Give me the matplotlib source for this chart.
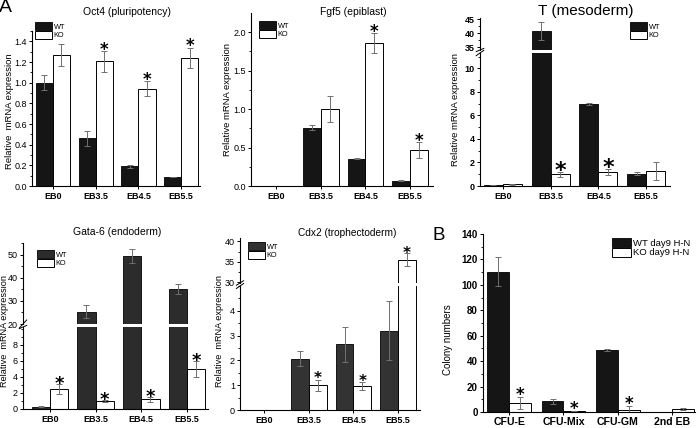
import matplotlib
matplotlib.use('Agg')
import matplotlib.pyplot as plt
import numpy as np
from matplotlib.patches import Patch
from matplotlib.ticker import MultipleLocator, FormatStrFormatter

plt.rcParams['font.family'] = ['Liberation Sans', 'DejaVu Sans']

# ---------------- data ----------------
stages = ['EB0', 'EB3.5', 'EB4.5', 'EB5.5']

oct4_wt = [1.0, 0.46, 0.19, 0.087]
oct4_wt_err = [0.075, 0.07, 0.016, 0.004]
oct4_ko = [1.27, 1.205, 0.942, 1.242]
oct4_ko_err = [0.105, 0.098, 0.07, 0.097]
oct4_star = [False, True, True, True]

fgf5_wt = [0.0, 0.757, 0.357, 0.07]
fgf5_wt_err = [0.0, 0.033, 0.01, 0.008]
fgf5_ko = [0.0, 1.0, 1.857, 0.465]
fgf5_ko_err = [0.0, 0.174, 0.13, 0.1]
fgf5_star = [False, False, True, True]

t_wt = [0.1, 40.6, 6.97, 1.05]
t_wt_err = [0.02, 3.2, 0.05, 0.1]
t_ko = [0.15, 1.0, 1.2, 1.28]
t_ko_err = [0.05, 0.22, 0.28, 0.78]
t_star = [False, True, True, False]

gata6_wt = [0.3, 25.3, 49.6, 35.2]
gata6_wt_err = [0.05, 2.9, 3.0, 2.2]
gata6_ko = [2.5, 1.0, 1.2, 5.0]
gata6_ko_err = [0.6, 0.1, 0.3, 0.95]
gata6_star = [True, True, True, True]

cdx2_wt = [0.02, 2.06, 2.65, 3.2]
cdx2_wt_err = [0.0, 0.3, 0.7, 1.2]
cdx2_ko = [0.0, 1.0, 0.97, 35.5]
cdx2_ko_err = [0.0, 0.22, 0.15, 1.6]
cdx2_star = [False, True, True, True]

colony_types = ['CFU-E', 'CFU-Mix', 'CFU-GM', '2nd EB']
colony_wt = [110.5, 8.4, 48.4, 0.0]
colony_wt_err = [11.5, 1.9, 0.8, 0.0]
colony_ko = [7.1, 0.8, 1.8, 2.1]
colony_ko_err = [4.7, 0.3, 2.7, 0.8]
colony_star = [True, True, True, False]

# ---------------- layout helpers ----------------
W, H = 700, 428
fig = plt.figure(figsize=(7.0, 4.28), dpi=100)


def rect(x0, y0, x1, y1):
    return [x0 / W, 1 - y1 / H, (x1 - x0) / W, (y1 - y0) / H]


def fx(x):
    return x / W


def fy(y):
    return 1 - y / H


BAR_W = 0.4
ERR_COLOR = '#707070'


def style_axis(ax, bold_y=False, ysize=6.5, xsize=6.5, xpad=1.5):
    for s in ['top', 'right']:
        ax.spines[s].set_visible(False)
    for s in ['left', 'bottom']:
        ax.spines[s].set_linewidth(0.8)
    ax.tick_params(axis='y', which='major', direction='out', length=2.5, width=0.7,
                   labelsize=ysize, pad=1.2)
    ax.tick_params(axis='x', which='major', direction='out', length=2.5, width=0.7,
                   labelsize=xsize, pad=xpad)
    ax.tick_params(axis='y', which='minor', direction='out', length=1.5, width=0.6)
    ax.tick_params(axis='x', which='minor', bottom=False)
    if bold_y:
        for lab in ax.get_yticklabels():
            lab.set_fontweight('bold')


def draw_bars(ax, wt, wt_err, ko, ko_err, wt_color):
    x = np.arange(len(wt))
    ekw = dict(ecolor=ERR_COLOR, elinewidth=0.7, capsize=2.2, capthick=0.7)
    ax.bar(x - BAR_W / 2, wt, BAR_W, color=wt_color, edgecolor='black', linewidth=0.6,
           yerr=wt_err, error_kw=ekw, zorder=2)
    ax.bar(x + BAR_W / 2, ko, BAR_W, color='white', edgecolor='black', linewidth=0.7,
           yerr=ko_err, error_kw=ekw, zorder=2)
    return x


def add_stars(ax, ko, ko_err, stars, size, lo=None, hi=None, gap=3.5):
    # visible asterisk bottom sits ~0.42 em above the baseline
    off_px = gap - 0.42 * size * 100 / 72
    off_pt = off_px * 72 / 100
    x = np.arange(len(ko))
    for xi, v, e, s in zip(x, ko, ko_err, stars):
        top = v + e
        if not s:
            continue
        if lo is not None and (top < lo or top > hi):
            continue
        ax.annotate('*', (xi + BAR_W / 2, top), xytext=(0, off_pt),
                    textcoords='offset points', ha='center', va='baseline',
                    fontsize=size, fontweight='bold', family='DejaVu Sans',
                    zorder=5, annotation_clip=False)


def xaxis(ax, labels, xlim):
    ax.set_xticks(np.arange(len(labels)))
    ax.set_xticklabels(labels, fontweight='bold')
    ax.set_xlim(*xlim)


def add_legend(labels, wt_color, x, y, size=5.3, hl=2.3, hh=1.35):
    handles = [Patch(facecolor=wt_color, edgecolor='black', linewidth=0.6),
               Patch(facecolor='white', edgecolor='black', linewidth=0.7)]
    fig.legend(handles, labels, loc='upper left', bbox_to_anchor=(fx(x), fy(y)),
               bbox_transform=fig.transFigure, frameon=False, fontsize=size,
               handlelength=hl, handleheight=hh, labelspacing=0.0, handletextpad=0.25,
               borderpad=0.0, borderaxespad=0.0)


def break_marks(ax_low, ax_up):
    kw = dict(color='black', linewidth=0.7, clip_on=False)
    ax_low.plot([-0.02, 0.02], [1 - 0.02, 1 + 0.02], transform=ax_low.transAxes, **kw)
    ax_up.plot([-0.02, 0.02], [0 - 0.05, 0 + 0.05], transform=ax_up.transAxes, **kw)


# ---------------- Panel: Oct4 ----------------
ax1 = fig.add_axes(rect(32, 31, 200, 186))
draw_bars(ax1, oct4_wt, oct4_wt_err, oct4_ko, oct4_ko_err, '#151515')
add_stars(ax1, oct4_ko, oct4_ko_err, oct4_star, 12, gap=3.5)
ax1.set_ylim(0, 1.5)
ax1.yaxis.set_major_locator(MultipleLocator(0.2))
ax1.yaxis.set_minor_locator(MultipleLocator(0.1))
ax1.yaxis.set_major_formatter(FormatStrFormatter('%.1f'))
xaxis(ax1, stages, (-0.49, 3.44))
style_axis(ax1)
add_legend(['WT', 'KO'], '#151515', 35, 22)
fig.text(fx(127), fy(12), 'Oct4 (pluripotency)', ha='center', va='center', fontsize=7.5)
fig.text(fx(10), fy(111), 'Relative  mRNA expression', ha='center', va='center',
         rotation=90, fontsize=6.8)
fig.text(fx(-1), fy(8), 'A', ha='left', va='center', fontsize=14)

# ---------------- Panel: Fgf5 ----------------
ax2 = fig.add_axes(rect(251, 13, 433, 186))
draw_bars(ax2, fgf5_wt, fgf5_wt_err, fgf5_ko, fgf5_ko_err, '#151515')
add_stars(ax2, fgf5_ko, fgf5_ko_err, fgf5_star, 12, gap=3.5)
ax2.set_ylim(0, 2.247)
ax2.yaxis.set_major_locator(MultipleLocator(0.5))
ax2.yaxis.set_minor_locator(MultipleLocator(0.25))
ax2.yaxis.set_major_formatter(FormatStrFormatter('%.1f'))
xaxis(ax2, stages, (-0.56, 3.51))
style_axis(ax2)
add_legend(['WT', 'KO'], '#151515', 259, 21)
fig.text(fx(353), fy(12), 'Fgf5 (epiblast)', ha='center', va='center', fontsize=7.5)
fig.text(fx(227), fy(100), 'Relative mRNA expression', ha='center', va='center',
         rotation=90, fontsize=6.8)

# ---------------- Panel: T (broken axis) ----------------
ax3u = fig.add_axes(rect(480, 18, 670, 50))
ax3l = fig.add_axes(rect(480, 53, 670, 186))
for a in (ax3u, ax3l):
    draw_bars(a, t_wt, t_wt_err, t_ko, t_ko_err, '#151515')
    xaxis(a, stages, (-0.48, 3.5))
ax3l.set_ylim(0, 11.3)
ax3u.set_ylim(34.0, 45.4)
ax3l.yaxis.set_major_locator(MultipleLocator(2))
ax3l.yaxis.set_minor_locator(MultipleLocator(1))
ax3u.yaxis.set_major_locator(MultipleLocator(5))
ax3u.yaxis.set_minor_locator(MultipleLocator(2.5))
add_stars(ax3l, t_ko, t_ko_err, t_star, 16, 0, 11.3, gap=3.5)
style_axis(ax3l, bold_y=True)
style_axis(ax3u, bold_y=True)
ax3u.spines['bottom'].set_visible(False)
ax3u.tick_params(axis='x', bottom=False, labelbottom=False)
break_marks(ax3l, ax3u)
add_legend(['WT', 'KO'], '#151515', 630, 22)
fig.text(fx(586), fy(10.5), 'T (mesoderm)', ha='center', va='center', fontsize=11)
fig.text(fx(455), fy(110), 'Relative mRNA expression', ha='center', va='center',
         rotation=90, fontsize=6.8)

# ---------------- Panel: Gata-6 (broken axis) ----------------
ax4u = fig.add_axes(rect(23, 243, 208, 324))
ax4l = fig.add_axes(rect(23, 327, 208, 409))
for a in (ax4u, ax4l):
    draw_bars(a, gata6_wt, gata6_wt_err, gata6_ko, gata6_ko_err, '#2c2c2c')
    xaxis(a, stages, (-0.59, 3.46))
ax4l.set_ylim(0, 10.25)
ax4u.set_ylim(20, 55.2)
ax4l.set_yticks([0, 2, 4, 6, 8])
ax4l.yaxis.set_minor_locator(MultipleLocator(1))
ax4u.yaxis.set_major_locator(MultipleLocator(10))
ax4u.yaxis.set_minor_locator(MultipleLocator(5))
add_stars(ax4l, gata6_ko, gata6_ko_err, gata6_star, 13, 0, 10.25, gap=2.5)
style_axis(ax4l, ysize=6.5)
style_axis(ax4u, ysize=6.5)
ax4u.spines['bottom'].set_visible(False)
ax4u.tick_params(axis='x', bottom=False, labelbottom=False)
break_marks(ax4l, ax4u)
add_legend(['WT', 'KO'], '#2c2c2c', 37, 250)
fig.text(fx(117), fy(232), 'Gata-6 (endoderm)', ha='center', va='center', fontsize=7.5)
fig.text(fx(4.5), fy(331), 'Relative  mRNA expression', ha='center', va='center',
         rotation=90, fontsize=6.6)

# ---------------- Panel: Cdx2 (broken axis) ----------------
ax5u = fig.add_axes(rect(240, 238, 420, 283))
ax5l = fig.add_axes(rect(240, 286, 420, 410))
for a in (ax5u, ax5l):
    draw_bars(a, cdx2_wt, cdx2_wt_err, cdx2_ko, cdx2_ko_err, '#333333')
    xaxis(a, stages, (-0.54, 3.49))
ax5l.set_ylim(0, 5.0)
ax5l.set_yticks([0, 1, 2, 3, 4])
ax5l.yaxis.set_minor_locator(MultipleLocator(0.5))
ax5u.set_ylim(29.8, 40.8)
ax5u.yaxis.set_major_locator(MultipleLocator(5))
ax5u.yaxis.set_minor_locator(MultipleLocator(2.5))
add_stars(ax5l, cdx2_ko, cdx2_ko_err, cdx2_star, 11, 0, 5.0, gap=3)
add_stars(ax5u, cdx2_ko, cdx2_ko_err, cdx2_star, 11, 29.8, 40.8, gap=2)
style_axis(ax5l, ysize=6.5)
style_axis(ax5u, ysize=6.5)
ax5u.spines['bottom'].set_visible(False)
ax5u.tick_params(axis='x', bottom=False, labelbottom=False)
break_marks(ax5l, ax5u)
add_legend(['WT', 'KO'], '#333333', 248, 242)
fig.text(fx(347), fy(233), 'Cdx2 (trophectoderm)', ha='center', va='center', fontsize=7.3)
fig.text(fx(220), fy(331), 'Relative  mRNA expression', ha='center', va='center',
         rotation=90, fontsize=6.6)

# ---------------- Panel B: colonies ----------------
ax6 = fig.add_axes(rect(483, 234, 695, 412))
draw_bars(ax6, colony_wt, colony_wt_err, colony_ko, colony_ko_err, '#151515')
add_stars(ax6, colony_ko, colony_ko_err, colony_star, 12, gap=4)
ax6.set_ylim(0, 140)
ax6.yaxis.set_major_locator(MultipleLocator(20))
ax6.yaxis.set_minor_locator(MultipleLocator(10))
xaxis(ax6, colony_types, (-0.48, 3.42))
style_axis(ax6, bold_y=True, ysize=7, xsize=7.6, xpad=0.8)
add_legend(['WT day9 H-N', 'KO day9 H-N'], '#151515', 612, 238, size=6.8, hl=2.0, hh=1.1)
fig.text(fx(448), fy(340), 'Colony numbers', ha='center', va='center', rotation=90,
         fontsize=7)
fig.text(fx(432), fy(236), 'B', ha='left', va='center', fontsize=13.5)

fig.savefig('out.png', dpi=100)
